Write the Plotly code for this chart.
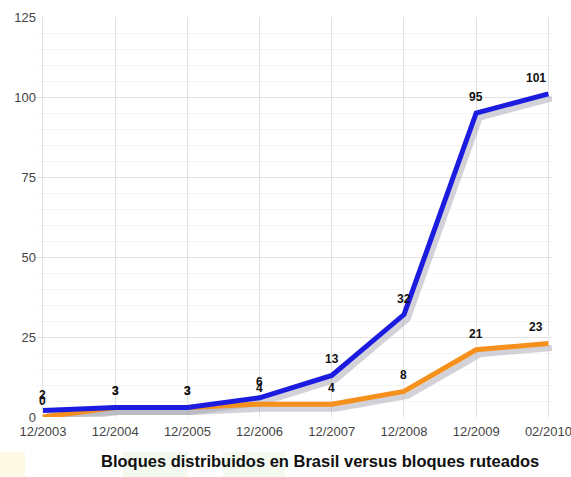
import plotly.graph_objects as go

categories = ["12/2003", "12/2004", "12/2005", "12/2006", "12/2007", "12/2008", "12/2009", "02/2010"]
distribuidos = [2, 3, 3, 6, 13, 32, 95, 101]
ruteados = [0, 3, 3, 4, 4, 8, 21, 23]
y_ticks = [0, 25, 50, 75, 100, 125]
title_text = "Bloques distribuidos en Brasil versus bloques ruteados"

xs = list(range(len(categories)))
shadow_dx = 0.05
shadow_dy = -1.4

L, R, T, B = 37, 19, 17, 60
W, H = 571, 477
PW, PH = W - L - R, H - T - B


def px_x(p):
    return (p - L) / PW


def px_y(p):
    return (T + PH - p) / PH


fig = go.Figure()

for vals in (ruteados, distribuidos):
    fig.add_trace(go.Scatter(
        x=[v + shadow_dx for v in xs], y=[v + shadow_dy for v in vals],
        mode="lines", line=dict(color="rgba(165,165,178,0.5)", width=6),
        hoverinfo="skip", showlegend=False))

fig.add_trace(go.Scatter(
    x=xs, y=ruteados, mode="lines",
    line=dict(color="#f5901c", width=5), showlegend=False))

fig.add_trace(go.Scatter(
    x=xs, y=distribuidos, mode="lines",
    line=dict(color="#1c1ce0", width=5), showlegend=False))

# value labels above each point
for vals in (ruteados, distribuidos):
    for i, v in zip(xs, vals):
        fig.add_annotation(
            x=i, y=v, text="<b>" + str(v) + "</b>", showarrow=False,
            xanchor="center", yanchor="middle", yshift=16,
            xshift=-12 if i == xs[-1] else 0,
            font=dict(family="Liberation Sans, Arial", size=12, color="#111"))

# faint watermark shapes in the bottom-left
for x0, x1, col in [(0, 25, "rgba(250,245,205,0.55)"), (123, 188, "rgba(230,242,220,0.45)"),
                    (223, 285, "rgba(230,242,220,0.40)")]:
    fig.add_shape(type="rect", xref="paper", yref="paper",
                  x0=px_x(x0), x1=px_x(x1), y0=px_y(477), y1=px_y(452),
                  line_width=0, fillcolor=col, layer="below")

fig.add_annotation(
    text="<b>" + title_text + "</b>", xref="paper", yref="paper",
    x=px_x(320), y=px_y(461), showarrow=False,
    xanchor="center", yanchor="middle",
    font=dict(family="Liberation Sans, Arial", size=16.5, color="#111"))

fig.update_layout(
    width=W, height=H,
    margin=dict(l=L, r=R, t=T, b=B),
    paper_bgcolor="white", plot_bgcolor="white",
    font=dict(family="Liberation Sans, Arial", size=13, color="#444"),
    xaxis=dict(range=[-0.083, 7.05], tickvals=xs, ticktext=categories,
               showgrid=True, gridcolor="#e2e2e2", zeroline=False, showline=False,
               ticks="", automargin=False, ticklabelstandoff=5,
               ticklabeloverflow="allow",
               tickfont=dict(size=13, color="#444")),
    yaxis=dict(range=[0, 125], tickvals=y_ticks, showgrid=True, gridcolor="#e2e2e2",
               zeroline=False, showline=False, ticks="", automargin=False,
               minor=dict(dtick=5, showgrid=True, gridcolor="#f5f5f5"),
               tickfont=dict(size=13, color="#444")),
)

fig.write_html("out.html")
